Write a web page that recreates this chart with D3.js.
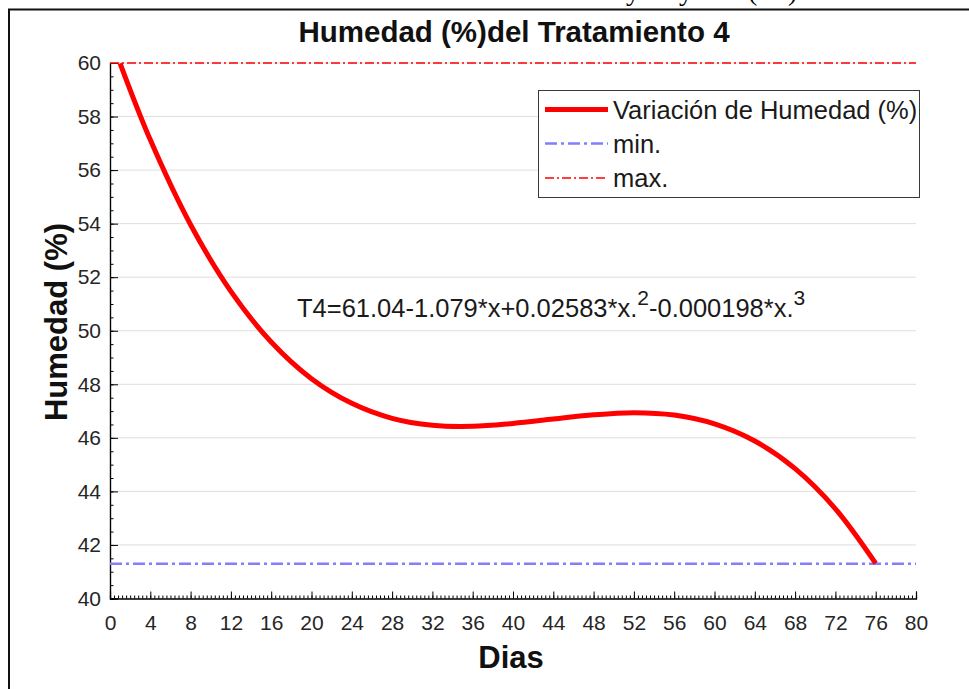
<!DOCTYPE html>
<html>
<head>
<meta charset="utf-8">
<script src="https://cdn.jsdelivr.net/npm/d3@7"></script>
<style>
  html, body { margin: 0; padding: 0; background: #fff; }
  svg { display: block; }
</style>
</head>
<body>
<svg id="chart" width="969" height="689"></svg>
<script>
// ---- data ----
const days = [1, 4, 8, 12, 16, 20, 24, 28, 32, 36, 40, 44, 48, 52, 56, 60, 64, 68, 72, 76];
const humidity = [59.99, 57.13, 53.96, 51.47, 49.58, 48.21, 47.29, 46.73, 46.47, 46.43, 46.54, 46.70, 46.86, 46.94, 46.85, 46.52, 45.88, 44.85, 43.35, 41.31];
const minLevel = 41.3;
const maxLevel = 60;
const xTicks = [0, 4, 8, 12, 16, 20, 24, 28, 32, 36, 40, 44, 48, 52, 56, 60, 64, 68, 72, 76, 80];
const yTicks = [40, 42, 44, 46, 48, 50, 52, 54, 56, 58, 60];
const legendLabels = ["Variación de Humedad (%)", "min.", "max."];
const titleText = "Humedad (%)del Tratamiento 4";
const xLabel = "Dias";
const yLabel = "Humedad (%)";

(function () {
// ---- layout ----
const svg = d3.select("#chart");
const font = "'Liberation Sans', Arial, Helvetica, sans-serif";
const pLeft = 110, pRight = 916, pTop = 63, pBottom = 598.5;

const x = d3.scaleLinear().domain([0, 80]).range([pLeft, pRight]);
const y = d3.scaleLinear().domain([40, 60]).range([pBottom, pTop]);

// outer frame (cropped figure above the chart)
const cut = svg.append("text")
  .attr("y", 0)
  .attr("font-family", "'Liberation Serif', 'Times New Roman', serif")
  .attr("font-size", 28).attr("fill", "#000");
cut.append("tspan").attr("x", 626).text("y");
cut.append("tspan").attr("x", 679).text("y");
cut.append("tspan").attr("x", 748).text("(");
cut.append("tspan").attr("x", 788).text(")");
svg.append("line").attr("x1", 8).attr("x2", 969).attr("y1", 9.5).attr("y2", 9.5)
  .attr("stroke", "#111").attr("stroke-width", 2);
svg.append("line").attr("x1", 9).attr("x2", 9).attr("y1", 9).attr("y2", 689)
  .attr("stroke", "#111").attr("stroke-width", 2);

// gridlines
svg.append("g").selectAll("line").data(yTicks).join("line")
  .attr("x1", pLeft).attr("x2", pRight)
  .attr("y1", d => y(d)).attr("y2", d => y(d))
  .attr("stroke", "#dedede").attr("stroke-width", 1);

// axes
const xMinor = d3.range(0, 80.001, 0.4);
const yMinor = d3.range(40, 60.001, 0.5);

const xAxis = svg.append("g").attr("transform", `translate(0,${pBottom})`);
xAxis.call(d3.axisBottom(x).tickValues(xMinor).tickSize(-3).tickFormat(""));
const xAxisMajor = svg.append("g").attr("transform", `translate(0,${pBottom})`);
xAxisMajor.call(d3.axisBottom(x).tickValues(xTicks).tickSize(-7).tickPadding(17).tickFormat(d3.format("d")));
[xAxis, xAxisMajor].forEach(g => {
  g.select(".domain").attr("stroke", "#000").attr("stroke-width", 1.2);
  g.selectAll(".tick line").attr("stroke", "#000");
});
xAxisMajor.selectAll("text").attr("font-family", font).attr("font-size", 21).attr("fill", "#262626");

const yAxis = svg.append("g").attr("transform", `translate(${pLeft},0)`);
yAxis.call(d3.axisLeft(y).tickValues(yMinor).tickSize(-3.5).tickFormat(""));
const yAxisMajor = svg.append("g").attr("transform", `translate(${pLeft},0)`);
yAxisMajor.call(d3.axisLeft(y).tickValues(yTicks).tickSize(-8).tickPadding(9).tickFormat(d3.format("d")));
[yAxis, yAxisMajor].forEach(g => {
  g.select(".domain").attr("stroke", "#000").attr("stroke-width", 1.2);
  g.selectAll(".tick line").attr("stroke", "#000");
});
yAxisMajor.selectAll("text").attr("font-family", font).attr("font-size", 21).attr("fill", "#262626");

// reference lines
svg.append("line")
  .attr("x1", pLeft).attr("x2", pRight).attr("y1", y(maxLevel)).attr("y2", y(maxLevel))
  .attr("stroke", "#ff0000").attr("stroke-width", 1.5).attr("stroke-dasharray", "9,3,2,3");
svg.append("line")
  .attr("x1", pLeft).attr("x2", pRight).attr("y1", y(minLevel)).attr("y2", y(minLevel))
  .attr("stroke", "#7f7fff").attr("stroke-width", 2.5).attr("stroke-dasharray", "12,4,3,4");

// main curve
const pts = days.map((d, i) => [d, humidity[i]]);
svg.append("path")
  .datum(pts)
  .attr("d", d3.line().x(d => x(d[0])).y(d => y(d[1])).curve(d3.curveCatmullRom.alpha(0.5)))
  .attr("fill", "none").attr("stroke", "#ff0000").attr("stroke-width", 5);

// equation text
const eq = svg.append("text").attr("x", 297).attr("y", 317)
  .attr("font-family", font).attr("font-size", 25.5).attr("fill", "#1a1a1a");
eq.append("tspan").text("T4=61.04-1.079*x+0.02583*x.");
eq.append("tspan").attr("dy", -12).attr("font-size", 21).text("2");
eq.append("tspan").attr("dy", 12).text("-0.000198*x.");
eq.append("tspan").attr("dy", -12).attr("font-size", 21).text("3");

// legend
const lg = svg.append("g");
lg.append("rect").attr("x", 538.5).attr("y", 90.5).attr("width", 381).attr("height", 107)
  .attr("fill", "#fff").attr("stroke", "#3a3a3a").attr("stroke-width", 1);
const lgStyles = [
  { stroke: "#ff0000", width: 5, dash: null },
  { stroke: "#7f7fff", width: 2.5, dash: "12,4,3,4" },
  { stroke: "#ff0000", width: 1.5, dash: "9,3,2,3" }
];
const lgY = [109.5, 143.5, 178];
legendLabels.forEach((lab, i) => {
  lg.append("line").attr("x1", 545).attr("x2", 608).attr("y1", lgY[i]).attr("y2", lgY[i])
    .attr("stroke", lgStyles[i].stroke).attr("stroke-width", lgStyles[i].width)
    .attr("stroke-dasharray", lgStyles[i].dash);
  lg.append("text").attr("x", 613).attr("y", lgY[i] + 9)
    .attr("font-family", font).attr("font-size", 25.5).attr("fill", "#1a1a1a").text(lab);
});

// titles
svg.append("text").attr("x", 514).attr("y", 42).attr("text-anchor", "middle")
  .attr("font-family", font).attr("font-size", 29.5).attr("font-weight", "bold").attr("fill", "#111")
  .text(titleText);
svg.append("text").attr("x", 511).attr("y", 668).attr("text-anchor", "middle")
  .attr("font-family", font).attr("font-size", 31).attr("font-weight", "bold").attr("fill", "#111")
  .text(xLabel);
svg.append("text").attr("transform", `translate(67,322) rotate(-90)`).attr("text-anchor", "middle")
  .attr("font-family", font).attr("font-size", 31).attr("font-weight", "bold").attr("fill", "#111")
  .text(yLabel);
})();
</script>
</body>
</html>
